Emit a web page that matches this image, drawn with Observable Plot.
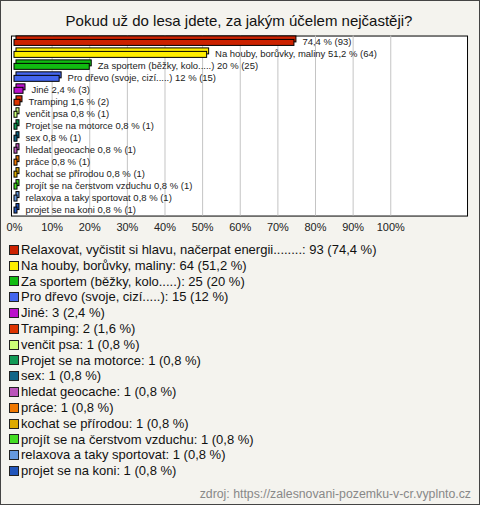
<!DOCTYPE html>
<html>
<head>
<meta charset="utf-8">
<script src="https://cdn.jsdelivr.net/npm/d3@7"></script>
<script src="https://cdn.jsdelivr.net/npm/@observablehq/plot@0.6"></script>
<style>
  html, body { margin: 0; padding: 0; background: #fff; }
  #box { position: absolute; left: 0; top: 0; width: 480px; height: 505px; box-sizing: border-box;
         border: 1px solid #444; background: #f4f3ee; font-family: Arial, "Liberation Sans", sans-serif; overflow: hidden; }
  #title { position: absolute; left: 0; top: 11px; width: 476px; text-align: center; font-size: 15px; color: #111; }
  #chart { position: absolute; left: -1px; top: -1px; }
  #legend { position: absolute; left: 8px; top: 241px; }
  .item { height: 15.8px; line-height: 15.8px; font-size: 13px; color: #111; white-space: nowrap; display: flex; align-items: center; }
  .sw { display: inline-block; width: 8px; height: 8px; border: 1px solid #222; margin-right: 2px; }
  #caption { position: absolute; right: 8px; top: 486px; font-size: 12.3px; color: #888; }
</style>
</head>
<body>
<div id="box">
  <div id="title"></div>
  <div id="chart"></div>
  <div id="legend"></div>
  <div id="caption"></div>
</div>
<script>
const title = "Pokud už do lesa jdete, za jakým účelem nejčastěji?";
const caption = "zdroj: https://zalesnovani-pozemku-v-cr.vyplnto.cz";
const categories = [
  "Relaxovat, vyčistit si hlavu, načerpat energii........",
  "Na houby, borůvky, maliny",
  "Za sportem (běžky, kolo.....)",
  "Pro dřevo (svoje, cizí.....)",
  "Jiné",
  "Tramping",
  "venčit psa",
  "Projet se na motorce",
  "sex",
  "hledat geocache",
  "práce",
  "kochat se přírodou",
  "projít se na čerstvom vzduchu",
  "relaxova a taky sportovat",
  "projet se na koni"
];
const counts = [93, 64, 25, 15, 3, 2, 1, 1, 1, 1, 1, 1, 1, 1, 1];
const percents = [74.4, 51.2, 20, 12, 2.4, 1.6, 0.8, 0.8, 0.8, 0.8, 0.8, 0.8, 0.8, 0.8, 0.8];
const colors = ["#cc2200", "#ffee00", "#11bb11", "#4466ee", "#bb11cc", "#dd3300", "#ccff77", "#119955",
                "#116688", "#bb55bb", "#ee7700", "#ddaa00", "#44dd22", "#6699dd", "#2255bb"];
const tickValues = [0, 10, 20, 30, 40, 50, 60, 70, 80, 90, 100];

const fmt = v => String(v).replace(".", ",");
const data = categories.map((c, i) => ({
  cat: c, count: counts[i], pct: percents[i], color: colors[i],
  label: (i === 0 ? "" : c + " ") + fmt(percents[i]) + " % (" + counts[i] + ")"
}));

document.getElementById("title").textContent = title;
document.getElementById("caption").textContent = caption;

const plot = Plot.plot({
  width: 480,
  height: 240,
  marginLeft: 11,
  marginRight: 12,
  marginTop: 35.6,
  marginBottom: 24,
  style: { background: "transparent", fontFamily: "Arial, 'Liberation Sans', sans-serif" },
  x: { domain: [-0.8, 120.4], axis: null, label: null },
  y: { domain: categories, axis: null, padding: 0, label: null },
  marks: [
    Plot.frame({ fill: "white", stroke: "#000" }),
    Plot.ruleX(tickValues.slice(1), { stroke: "#c4c4c4" }),
    Plot.axisX(tickValues, { tickSize: 0, tickPadding: 7, fontSize: 11, fill: "#222", label: null, tickFormat: d => d + "%", anchor: "bottom" }),
    Plot.barX(data, { x: "pct", y: "cat", fill: "color", stroke: "#000", strokeWidth: 1, insetTop: 2, insetBottom: 4, dx: 2, dy: -2 }),
    Plot.barX(data, { x: "pct", y: "cat", fill: "color", stroke: "#000", strokeWidth: 1, insetTop: 3.5, insetBottom: 2.5 }),
    Plot.text(data, { x: "pct", y: "cat", text: "label", dx: 8, textAnchor: "start", fontSize: 9.5, fill: "#222" })
  ]
});
document.getElementById("chart").appendChild(plot);

const legend = document.getElementById("legend");
data.forEach(d => {
  const row = document.createElement("div");
  row.className = "item";
  const sw = document.createElement("span");
  sw.className = "sw";
  sw.style.background = d.color;
  row.appendChild(sw);
  row.appendChild(document.createTextNode(d.cat + ": " + d.count + " (" + fmt(d.pct) + " %)"));
  legend.appendChild(row);
});
</script>
</body>
</html>
